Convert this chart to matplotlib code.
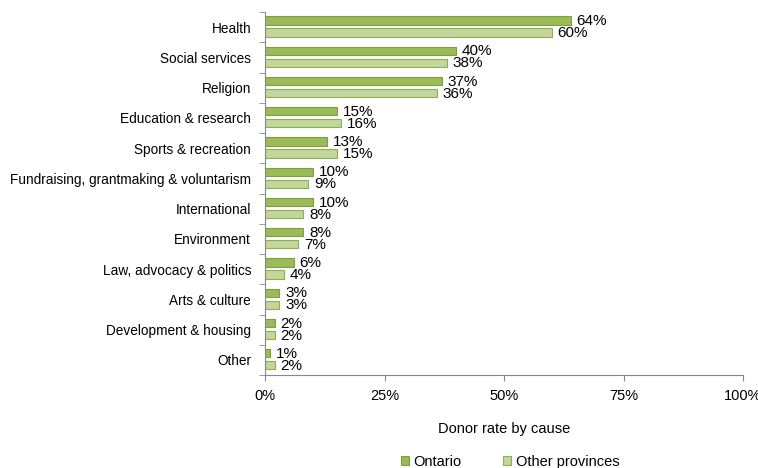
import numpy as np
import matplotlib.pyplot as plt

plt.rcParams['font.family'] = ['Liberation Sans', 'DejaVu Sans']

causes = ['Health', 'Social services', 'Religion', 'Education & research',
          'Sports & recreation', 'Fundraising, grantmaking & voluntarism',
          'International', 'Environment', 'Law, advocacy & politics',
          'Arts & culture', 'Development & housing', 'Other']
ontario = [64, 40, 37, 15, 13, 10, 10, 8, 6, 3, 2, 1]
other = [60, 38, 36, 16, 15, 9, 8, 7, 4, 3, 2, 2]

fig = plt.figure(figsize=(7.58, 4.68), dpi=100)
ax = fig.add_axes([265/758, 1-375/468, (743-265)/758, (375-12)/468])

n = len(causes)
y = np.arange(n)
h = 0.27
ax.barh(y - 0.22, ontario, height=h, color='#9bbb59', edgecolor='#7f9f3f', linewidth=0.8, label='Ontario')
ax.barh(y + 0.18, other, height=h, color='#c3d69b', edgecolor='#8fae50', linewidth=0.8, label='Other provinces')

for i in range(n):
    ax.text(ontario[i] + 1.2, y[i] - 0.2, f'{ontario[i]}%', va='center', ha='left', fontsize=11)
    ax.text(other[i] + 1.2, y[i] + 0.2, f'{other[i]}%', va='center', ha='left', fontsize=11)

ax.set_ylim(n - 0.5, -0.5)
ax.set_xlim(0, 100)
ax.set_yticks(y)
ax.set_yticklabels(causes, fontsize=9.8)
ax.set_yticks(np.arange(n + 1) - 0.5, minor=True)
ax.tick_params(axis='y', which='major', length=0, pad=10)
ax.tick_params(axis='y', which='minor', length=4, color='#888888')
ax.set_xticks([0, 25, 50, 75, 100])
ax.set_xticklabels(['0%', '25%', '50%', '75%', '100%'], fontsize=10.5)
ax.tick_params(axis='x', length=4, color='#888888', pad=6)
for s in ['top', 'right']:
    ax.spines[s].set_visible(False)
ax.spines['left'].set_color('#888888')
ax.spines['bottom'].set_color('#888888')

fig.text(504/758, 1-429/468, 'Donor rate by cause', ha='center', va='center', fontsize=10.5)
fig.legend(loc='center', bbox_to_anchor=(510/758, 1-462/468), ncol=2, frameon=False,
           fontsize=10.5, handlelength=0.6, handleheight=0.6, columnspacing=2.8, handletextpad=0.3)

fig.savefig('out.png', dpi=100)
